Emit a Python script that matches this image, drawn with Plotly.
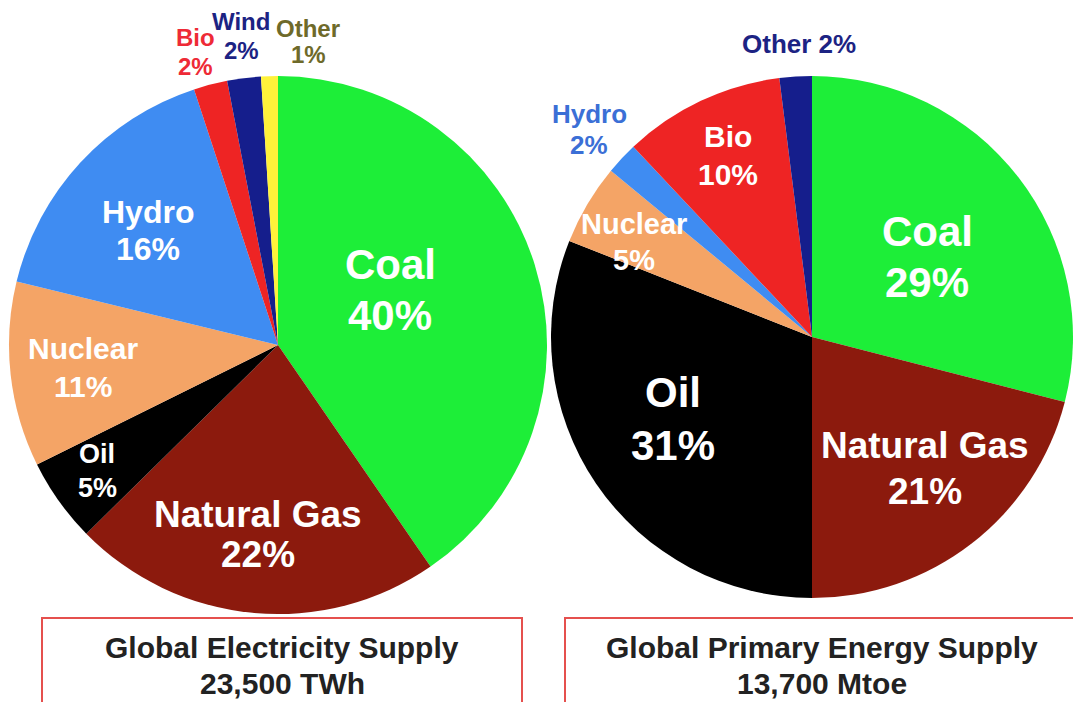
import plotly.graph_objects as go

W, H = 1073, 702

# Global electricity supply shares (%)
elec_labels = ["Coal", "Natural Gas", "Oil", "Nuclear", "Hydro", "Bio", "Wind", "Other"]
elec_values = [40, 22, 5, 11, 16, 2, 2, 1]
elec_colors = ["#1DEE38", "#8C1A0D", "#000000", "#F4A466", "#3F8CF2", "#EE2424", "#151E8C", "#FFF23A"]

# Global primary energy supply shares (%)
prim_labels = ["Coal", "Natural Gas", "Oil", "Nuclear", "Hydro", "Bio", "Other"]
prim_values = [29, 21, 31, 5, 2, 10, 2]
prim_colors = ["#1DEE38", "#8C1A0D", "#000000", "#F4A466", "#3F8CF2", "#EE2424", "#151E8C"]

box_titles = ["Global Electricity Supply", "Global Primary Energy Supply"]
box_totals = ["23,500 TWh", "13,700 Mtoe"]

FONT = "Liberation Sans, Arial, sans-serif"


def px_x(x):
    return x / W


def px_y(y):
    return 1 - y / H


fig = go.Figure()

fig.add_trace(go.Pie(
    labels=elec_labels, values=elec_values, sort=False, direction="clockwise",
    rotation=0, marker=dict(colors=elec_colors, line=dict(width=0)),
    textinfo="none", hoverinfo="label+value",
    domain=dict(x=[px_x(9), px_x(547)], y=[px_y(614), px_y(76)]),
))
fig.add_trace(go.Pie(
    labels=prim_labels, values=prim_values, sort=False, direction="clockwise",
    rotation=0, marker=dict(colors=prim_colors, line=dict(width=0)),
    textinfo="none", hoverinfo="label+value",
    domain=dict(x=[px_x(551), px_x(1073)], y=[px_y(598), px_y(76)]),
))

annotations = []


def add_text(text, x, y, size, color):
    annotations.append(dict(
        text=f"<b>{text}</b>", x=px_x(x), y=px_y(y), xref="paper", yref="paper",
        showarrow=False, xanchor="center", yanchor="middle",
        font=dict(family=FONT, size=size, color=color),
    ))


def add_slice_label(labels, values, name, x, y_name, y_value, size, color):
    i = labels.index(name)
    add_text(labels[i], x, y_name, size, color)
    add_text(f"{values[i]}%", x, y_value, size, color)


# Electricity pie labels: (name, x, name line y, value line y, font size, colour)
elec_places = [
    ("Coal", 390, 265, 315, 42, "white"),
    ("Natural Gas", 258, 514, 554, 37, "white"),
    ("Oil", 97, 454, 488, 27, "white"),
    ("Nuclear", 83, 348, 386, 30, "white"),
    ("Hydro", 148, 212, 249, 32, "white"),
    ("Bio", 195, 38, 66, 24, "#EE2A36"),
    ("Wind", 241, 21, 50, 24, "#1C2383"),
    ("Other", 308, 28, 55, 24, "#6E6A2A"),
]
for name, x, y1, y2, s, c in elec_places:
    add_slice_label(elec_labels, elec_values, name, x, y1, y2, s, c)

# Primary energy pie labels
prim_places = [
    ("Coal", 927, 232, 282, 42, "white"),
    ("Natural Gas", 925, 445, 492, 37, "white"),
    ("Oil", 673, 392, 445, 42, "white"),
    ("Nuclear", 634, 224, 260, 29, "white"),
    ("Hydro", 589, 114, 145, 26, "#3B6FD6"),
    ("Bio", 728, 136, 174, 30, "white"),
]
for name, x, y1, y2, s, c in prim_places:
    add_slice_label(prim_labels, prim_values, name, x, y1, y2, s, c)

# single-line label for the thin "Other" slice
k = prim_labels.index("Other")
add_text(f"{prim_labels[k]} {prim_values[k]}%", 799, 44, 26, "#1C2383")

# Caption boxes under each pie
shapes = []
for (x0, x1, cx), title, total in zip([(42, 522, 282), (565, 1085, 822)], box_titles, box_totals):
    shapes.append(dict(
        type="rect", xref="paper", yref="paper",
        x0=px_x(x0), x1=px_x(x1), y0=px_y(710), y1=px_y(618),
        line=dict(color="#E5504E", width=2), fillcolor="rgba(0,0,0,0)",
    ))
    add_text(title, cx, 647, 30, "#222222")
    add_text(total, cx, 683, 30, "#222222")

fig.update_layout(
    width=W, height=H, margin=dict(l=0, r=0, t=0, b=0),
    paper_bgcolor="white", plot_bgcolor="white", showlegend=False,
    annotations=annotations, shapes=shapes,
)

fig.write_html("out.html")
